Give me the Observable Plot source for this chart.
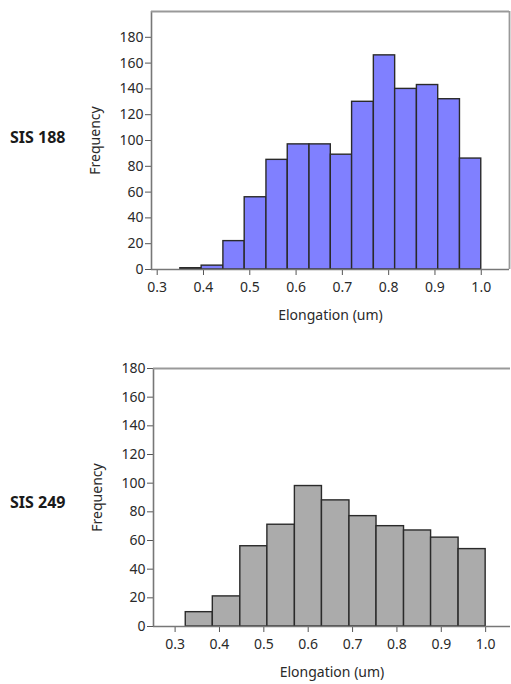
<!DOCTYPE html>
<html>
<head>
<meta charset="utf-8">
<script src="https://cdn.jsdelivr.net/npm/d3@7"></script>
<script src="https://cdn.jsdelivr.net/npm/@observablehq/plot@0.6"></script>
<style>
  html, body { margin: 0; padding: 0; background: #fff; }
  #root { position: relative; width: 511px; height: 684px; overflow: hidden; font-family: "Noto Sans", sans-serif; }
  .panel { position: absolute; left: 0; }
  .sis { position: absolute; left: 10px; font-weight: bold; font-size: 16px; color: #1a1a1a; line-height: 1; }
</style>
</head>
<body>
<div id="root"></div>
<script>
// ---- data ----
const sampleNames = ["SIS 188", "SIS 249"];

// SIS 188 histogram (bin lower/upper edges, counts)
const topBinStart = [0.350, 0.396, 0.443, 0.489, 0.536, 0.582, 0.629, 0.675, 0.721, 0.768, 0.814, 0.861, 0.907, 0.954];
const topBinEnd   = [0.396, 0.443, 0.489, 0.536, 0.582, 0.629, 0.675, 0.721, 0.768, 0.814, 0.861, 0.907, 0.954, 1.000];
const topCounts   = [1, 3, 22, 56, 85, 97, 97, 89, 130, 166, 140, 143, 132, 86];

// SIS 249 histogram
const botBinStart = [0.324, 0.385, 0.447, 0.508, 0.570, 0.631, 0.693, 0.754, 0.816, 0.877, 0.939];
const botBinEnd   = [0.385, 0.447, 0.508, 0.570, 0.631, 0.693, 0.754, 0.816, 0.877, 0.939, 1.000];
const botCounts   = [10, 21, 56, 71, 98, 88, 77, 70, 67, 62, 54];

const xTicks = [0.3, 0.4, 0.5, 0.6, 0.7, 0.8, 0.9, 1.0];
const yTicks = [0, 20, 40, 60, 80, 100, 120, 140, 160, 180];
const xLabel = "Elongation (um)";
const yLabel = "Frequency";

// ---- build ----
const root = document.getElementById("root");
const fmt = d3.format(".1f");

function table(s, e, c) { return s.map((d, i) => ({x1: d, x2: e[i], y: c[i]})); }

function panel({data, fill, xDomain, yDomain, top, height, mLeft, mRight, mTop, mBottom, fullFrame}) {
  const marks = [
    Plot.rectY(data, {x1: "x1", x2: "x2", y: "y", fill, stroke: "#2a2a2a", strokeWidth: 1.4}),
    Plot.axisX({ticks: xTicks, tickFormat: fmt, tickSize: 6, tickPadding: 7, stroke: "#555", fill: "#2a2a2a",
      label: xLabel, labelAnchor: "center", labelArrow: "none", labelOffset: 50}),
    Plot.axisY({ticks: yTicks, tickSize: 6, tickPadding: 2, stroke: "#555", fill: "#2a2a2a",
      label: yLabel, labelAnchor: "center", labelArrow: "none", labelOffset: 61}),
    Plot.ruleX([xDomain[0]], {stroke: "#777", strokeWidth: 1.6}),
    Plot.ruleY([0], {stroke: "#777", strokeWidth: 1.6}),
    Plot.ruleY([yDomain[1]], {stroke: "#999", strokeWidth: 1.8})
  ];
  if (fullFrame) marks.push(Plot.ruleX([xDomain[1]], {stroke: "#999", strokeWidth: 1.8}));
  const svg = Plot.plot({
    width: 511, height,
    marginLeft: mLeft, marginRight: mRight, marginTop: mTop, marginBottom: mBottom,
    style: {fontFamily: "'Noto Sans', sans-serif", fontSize: "14px", background: "white", overflow: "visible"},
    x: {domain: xDomain},
    y: {domain: yDomain},
    marks
  });
  const div = document.createElement("div");
  div.className = "panel";
  div.style.top = top + "px";
  div.appendChild(svg);
  root.appendChild(div);
}

panel({data: table(topBinStart, topBinEnd, topCounts), fill: "#8080ff",
  xDomain: [0.2877, 1.061], yDomain: [0, 200], top: 0, height: 335,
  mLeft: 151, mRight: 2, mTop: 11, mBottom: 66, fullFrame: true});

panel({data: table(botBinStart, botBinEnd, botCounts), fill: "#ababab",
  xDomain: [0.2513, 1.056], yDomain: [0, 180], top: 340, height: 344,
  mLeft: 153, mRight: 1, mTop: 28, mBottom: 58, fullFrame: false});

const centers = [138, 503];
sampleNames.forEach((n, i) => {
  const d = document.createElement("div");
  d.className = "sis";
  d.textContent = n;
  d.style.top = (centers[i] - 9) + "px";
  root.appendChild(d);
});
</script>
</body>
</html>
